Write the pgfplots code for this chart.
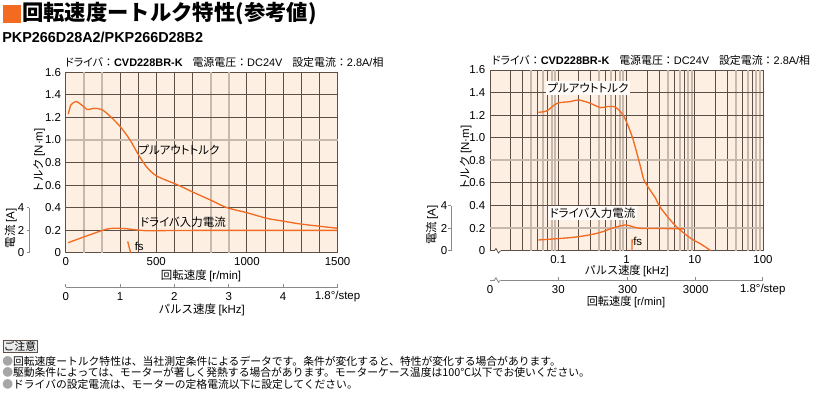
\documentclass[border=0pt]{standalone}
\usepackage{fontspec}
\usepackage{pgfplots}
\pgfplotsset{compat=1.18}
\setmainfont{Liberation Sans}
\newfontfamily\jp{Noto Sans CJK JP}
\newfontfamily\jpp[RawFeature=+palt]{Noto Sans CJK JP}
\definecolor{bgc}{HTML}{FDF0E3}
\definecolor{org}{HTML}{F26B21}
\definecolor{gd}{HTML}{5E4E48}
\definecolor{gl}{HTML}{C9B9AD}
\definecolor{ax}{HTML}{8A8A8A}
\newcommand\fsz[1]{\fontsize{#1}{#1}\selectfont}
\newcommand\drv{\fsz{8.2pt}\jpp ドライバ\jp ：{\rmfamily\bfseries CVD228BR-K}\hspace{0.9em}\jp 電源電圧：{\rmfamily DC24V}\hspace{0.9em}\jp 設定電流：{\rmfamily 2.8A/}相}
\pgfplotsset{chart/.style={
  scale only axis, anchor=south west,
  ymin=0, ymax=1.6,
  axis background/.style={fill=bgc},
  axis line style={draw=gd, line width=0.7pt},
  major tick length=0pt, minor tick length=0pt,
  ytick={0,0.2,0.4,0.6,0.8,1.0,1.2,1.4,1.6},
  yticklabels={0,0.2,0.4,0.6,0.8,1.0,1.2,1.4,1.6},
  tick label style={font=\fsz{8.6pt}},
  clip=false,
},
cv/.style={draw=org, line width=1pt, no marks}}
\begin{document}
\begin{tikzpicture}[x=0.75pt,y=0.75pt]
\path[use as bounding box] (0,0) rectangle (813,-397);
% ---------------- Left chart
\begin{axis}[chart, at={(49.28pt,-189.53pt)}, width=203.85pt, height=135.3pt,
  xmin=0, xmax=1500, xtick={0,500,1000,1500}, xticklabels={0,500,1000,1500}]
\pgfplotsinvokeforeach{100,200,800,900}{\draw[gl,line width=1.5pt] (axis cs:#1,0)--(axis cs:#1,1.6);}
\pgfplotsinvokeforeach{300,400,500,600,700,1000,1100,1200,1300,1400}{\draw[gd,line width=0.7pt] (axis cs:#1,0)--(axis cs:#1,1.6);}
\draw[gl,line width=1.5pt] (axis cs:0,1.0)--(axis cs:1500,1.0);
\pgfplotsinvokeforeach{0.2,0.4,0.6,0.8,1.2,1.4}{\draw[gd,line width=0.7pt] (axis cs:0,#1)--(axis cs:1500,#1);}
\addplot[cv, smooth] coordinates {(14,1.23)(28,1.31)(42,1.33)(61,1.34)(88,1.31)(120,1.27)(153,1.28)(199,1.27)(245,1.21)(300,1.12)(355,1.00)(401,0.87)(447,0.76)(503,0.68)(620,0.60)(705,0.535)(802,0.465)(889,0.40)(1000,0.355)(1110,0.305)(1200,0.28)(1294,0.255)(1400,0.235)(1500,0.217)};
\addplot[cv, smooth, y filter/.expression={y/10}] coordinates {(14,0.89)(100,1.4)(199,1.96)(230,2.1)(263,2.17)(300,2.16)(340,2.12)(373,2.05)(420,1.98)(465,1.95)(600,1.97)(800,1.98)(1500,1.98)};
\addplot[cv] coordinates {(342,0.1)(358,0)};
\end{axis}
% ---------------- Right chart
\begin{axis}[chart, at={(367.5pt,-188.03pt)}, width=204.75pt, height=135.53pt,
  xmode=log, xmin=0.01, xmax=100, xtick={0.1,1,10,100}, xticklabels={0.1,1,10,100}]
\pgfplotsinvokeforeach{0.04,0.06,0.08,0.09,0.4,0.6,0.8,0.9,4,6,8,9,40,60,80,90}{\draw[gl,line width=1.5pt] (axis cs:#1,0)--(axis cs:#1,1.6);}
\pgfplotsinvokeforeach{0.02,0.03,0.05,0.07,0.1,0.2,0.3,0.5,0.7,1,2,3,5,7,10,20,30,50,70}{\draw[gd,line width=0.7pt] (axis cs:#1,0)--(axis cs:#1,1.6);}
\pgfplotsinvokeforeach{0.2,0.8}{\draw[gl,line width=1.5pt] (axis cs:0.01,#1)--(axis cs:100,#1);}
\pgfplotsinvokeforeach{0.4,0.6,1.0,1.2,1.4}{\draw[gd,line width=0.7pt] (axis cs:0.01,#1)--(axis cs:100,#1);}
\addplot[cv, smooth] coordinates {(0.051,1.226)(0.068,1.238)(0.096,1.305)(0.15,1.32)(0.199,1.335)(0.295,1.305)(0.415,1.267)(0.52,1.276)(0.689,1.27)(0.912,1.19)(1.21,1.01)(1.6,0.745)(1.8,0.627)(2.2,0.54)(2.67,0.464)(3.0,0.40)(4.0,0.30)(5.57,0.204)(8.7,0.11)(12.2,0.06)(17.2,0)};
\addplot[cv, smooth, y filter/.expression={y/10}] coordinates {(0.051,0.95)(0.168,1.19)(0.37,1.54)(0.65,2.04)(0.966,2.28)(1.2,2.15)(1.6,1.98)(3,1.97)(7,1.93)};
\addplot[cv] coordinates {(1.21,0.1)(1.2,0)};
\end{axis}
% ---------------- Title
\fill[org] (3,-5) rectangle (21,-22.5);
\node[anchor=west, inner sep=0] at (22,-13.8) {\jp\bfseries\fsz{16pt}回転速度ートルク特性(参考値)};
\node[anchor=west, inner sep=0] at (2,-37) {\bfseries\fsz{10.8pt}PKP266D28A2/PKP266D28B2};
\node[anchor=west, inner sep=0] at (65,-62.5) {\drv};
\node[anchor=west, inner sep=0] at (491.7,-60.7) {\drv};
% ---------------- in-plot labels
\node[inner sep=1pt] at (179,-150) {\jpp\fsz{8.6pt}プルアウトトルク};
\node[inner sep=1pt] at (183,-222) {\jpp\fsz{8.6pt}ドライバ入力電流};
\node[inner sep=1.2pt, fill=white!75!bgc] at (588,-88) {\jpp\fsz{8.6pt}プルアウトトルク};
\node[inner sep=1.2pt, fill=white!75!bgc] at (592.5,-213) {\jpp\fsz{8.6pt}ドライバ入力電流};
\node[anchor=west, inner sep=0] at (134.5,-246.5) {\fsz{8.6pt}fs};
\node[anchor=west, inner sep=0] at (633,-241.7) {\fsz{8.6pt}fs};
% ---------------- left secondary axes
\node[rotate=90] at (39.2,-160.8) {\fsz{8.6pt}\jp トルク {\rmfamily[N·m]}};
\node[rotate=90] at (10.8,-228.5) {\fsz{8.6pt}\jp 電流 {\rmfamily[A]}};
\draw[ax,line width=0.6pt] (29.3,-207.7)--(29.3,-252.7);
\foreach \yy/\t in {207.7/4,230.2/2,252.7/0}{\draw[ax,line width=0.6pt] (26.5,-\yy)--(29.3,-\yy); \node[anchor=east,inner sep=0] at (24.5,-\yy) {\fsz{8.6pt}\t};}
\node at (201,-276) {\fsz{8.6pt}\jp 回転速度 {\rmfamily[r/min]}};
\draw[ax,line width=0.6pt] (65.7,-287.3)--(337.5,-287.3);
\foreach \k in {0,...,5}{\draw[ax,line width=0.6pt] (65.7+\k*54.36,-287.3)--++(0,3);}
\foreach \k in {0,...,4}{\node at (65.7+\k*54.36,-296.5) {\fsz{8.6pt}\k};}
\node at (337.5,-296.5) {\fsz{8.6pt}1.8°/step};
\node at (201.7,-309.5) {\fsz{8.6pt}\jp パルス速度 {\rmfamily[kHz]}};
% ---------------- right secondary axes
\node[rotate=90] at (465.8,-158) {\fsz{8.6pt}\jp トルク {\rmfamily[N·m]}};
\node[rotate=90] at (432,-225) {\fsz{8.6pt}\jp 電流 {\rmfamily[A]}};
\draw[ax,line width=0.6pt] (451,-205.5)--(451,-250.7);
\foreach \yy/\t in {205.5/4,228.1/2,250.7/0}{\draw[ax,line width=0.6pt] (448,-\yy)--(451,-\yy); \node[anchor=east,inner sep=0] at (447.5,-\yy) {\fsz{8.6pt}\t};}
\node at (626.7,-270.5) {\fsz{8.4pt}\jp パルス速度 {\rmfamily[kHz]}};
\draw[ax,line width=0.6pt] (490,-280)--(762.7,-280);
\foreach \xx in {558.3,627.7,695.7,762.7}{\draw[ax,line width=0.6pt] (\xx,-280)--++(0,3);}
\foreach \xx/\t in {490/0,558.3/30,627.7/300,695.7/3000}{\node[inner sep=0] at (\xx,-290) {\fsz{8.6pt}\t};}
\node[inner sep=0] at (762.7,-290) {\fsz{8.6pt}1.8°/step};
\node at (626,-302) {\fsz{8.4pt}\jp 回転速度 {\rmfamily[r/min]}};
% breaks
\fill[white] (495,-249.6) rectangle (501,-252); 
\draw[gd,line width=0.6pt] (494.5,-250.7)--(496,-248.5)--(498.5,-253)--(500.5,-250.7);
\fill[white] (495,-279) rectangle (501,-281);
\draw[ax,line width=0.6pt] (494.5,-280)--(496,-277.8)--(498.5,-282.3)--(500.5,-280);
% ---------------- notes
\node[draw=gd, fill=gray!15, inner sep=0.8pt, anchor=west, line width=0.6pt] at (2.5,-346) {\jp\fsz{8pt}ご注意};
\node[anchor=west, inner sep=0] at (2,-361) {\fsz{8.1pt}\jp{\color{gray!70}●}回転速度ートルク特性は、当社測定条件によるデータです。条件が変化すると、特性が変化する場合があります。};
\node[anchor=west, inner sep=0] at (2,-372.5) {\fsz{8.1pt}\jp{\color{gray!70}●}駆動条件によっては、モーターが著しく発熱する場合があります。モーターケース温度は100℃以下でお使いください。};
\node[anchor=west, inner sep=0] at (2,-384) {\fsz{8.1pt}\jp{\color{gray!70}●}ドライバの設定電流は、モーターの定格電流以下に設定してください。};
\end{tikzpicture}
\end{document}
